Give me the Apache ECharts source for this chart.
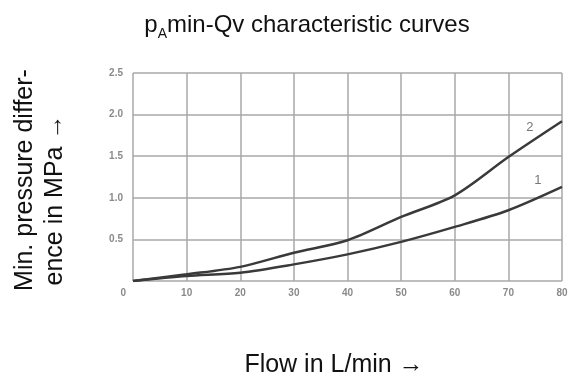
<!DOCTYPE html>
<html>
<head>
<meta charset="utf-8">
<script src="https://cdn.jsdelivr.net/npm/echarts@6/dist/echarts.min.js"></script>
<style>
  html, body { margin: 0; padding: 0; background: #fff; }
  #chart { width: 570px; height: 380px; }
</style>
</head>
<body>
<div id="chart"></div>
<script>
// flow in L/min
const flow = [0, 10, 20, 30, 40, 50, 60, 70, 80];
// min. pressure difference in MPa, curve 1 and curve 2
const curve1 = [0, 0.06, 0.10, 0.20, 0.32, 0.47, 0.65, 0.85, 1.13];
const curve2 = [0, 0.08, 0.17, 0.34, 0.49, 0.77, 1.03, 1.49, 1.92];
// where the curve numbers sit
const label1 = [75.5, 1.21];
const label2 = [74, 1.84];

const chart = echarts.init(document.getElementById('chart'));

const toPairs = (ys) => flow.map((x, i) => [x, ys[i]]);
const tickStyle = { color: '#8a8a8a', fontSize: 10, fontWeight: 'bold', fontFamily: 'Liberation Sans' };
const gridLine = { lineStyle: { color: '#a8a8a8', width: 1.5 } };
const nameFont = { fontSize: 25, fontFamily: 'Liberation Sans', color: '#111' };

const curveSeries = (name, ys, pos) => ({
    name: name,
    type: 'line',
    data: toPairs(ys),
    smooth: 0.3,
    symbol: 'none',
    lineStyle: { color: '#3a3a3a', width: 2.5 },
    markPoint: {
        symbol: 'circle',
        symbolSize: 1,
        itemStyle: { color: 'transparent' },
        label: { show: true, formatter: name, color: '#777', fontSize: 13, fontFamily: 'Liberation Sans' },
        data: [{ coord: pos }]
    }
});

const option = {
    animation: false,
    title: {
        text: '{p|p}{sub|A}{p|min-Qv characteristic curves}',
        left: 302,
        top: 4,
        textAlign: 'center',
        textStyle: {
            fontWeight: 'normal',
            rich: {
                p: { fontSize: 24, fontFamily: 'Liberation Sans', color: '#111', fontWeight: 'normal' },
                sub: { fontSize: 14, fontFamily: 'Liberation Sans', color: '#111', fontWeight: 'normal', verticalAlign: 'bottom', padding: [18, 0, 0, 0] }
            }
        }
    },
    grid: { left: 133, right: 8, top: 73, bottom: 99, outerBoundsMode: 'none' },
    xAxis: {
        type: 'value',
        min: 0,
        max: 80,
        interval: 10,
        name: 'Flow in L/min →',
        nameLocation: 'middle',
        nameGap: 72,
        nameTextStyle: Object.assign({ padding: [0, 27, 0, 0] }, nameFont),
        axisLine: { show: false },
        axisTick: { show: false },
        axisLabel: Object.assign({
            margin: 7,
            alignMinLabel: 'right',
            formatter: (v) => v === 0 ? '{z|0}' : String(v),
            rich: { z: { padding: [0, 7, 0, 0] } }
        }, tickStyle),
        splitLine: gridLine
    },
    yAxis: {
        type: 'value',
        min: 0,
        max: 2.5,
        interval: 0.5,
        name: '{a|Min. pressure differ-}\n{b|ence in MPa →}',
        nameLocation: 'middle',
        nameGap: 63,
        nameTextStyle: Object.assign({
            lineHeight: 30,
            padding: [0, 46, 0, 0],
            rich: {
                a: Object.assign({ lineHeight: 30, padding: [0, 0, 0, 40] }, nameFont),
                b: Object.assign({ lineHeight: 30 }, nameFont)
            }
        }, nameFont),
        axisLine: { show: false },
        axisTick: { show: false },
        axisLabel: Object.assign({
            margin: 10,
            showMinLabel: false,
            formatter: (v) => v.toFixed(1)
        }, tickStyle),
        splitLine: gridLine
    },
    series: [
        curveSeries('1', curve1, label1),
        curveSeries('2', curve2, label2)
    ]
};

chart.setOption(option);
</script>
</body>
</html>
